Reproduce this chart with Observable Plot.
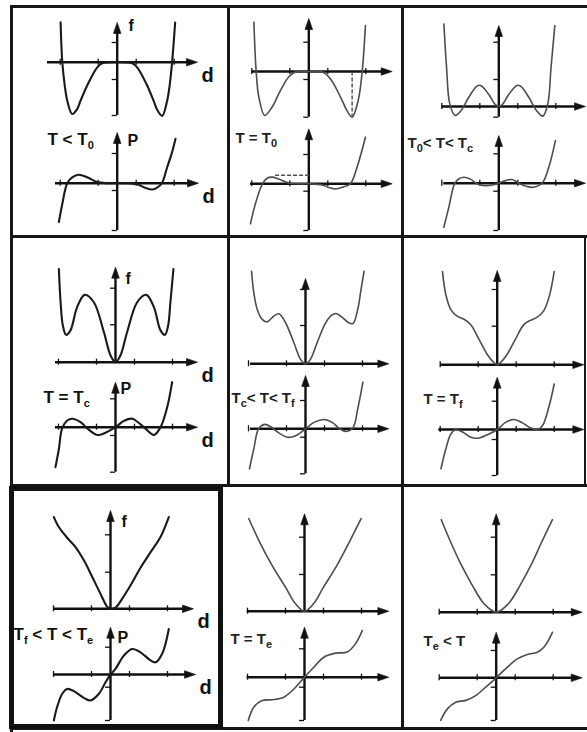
<!DOCTYPE html>
<html>
<head>
<meta charset="utf-8">
<script src="https://cdn.jsdelivr.net/npm/d3@7"></script>
<script src="https://cdn.jsdelivr.net/npm/@observablehq/plot@0.6"></script>
<style>
  body { margin: 0; background: #fff; }
  #fig { position: relative; width: 587px; height: 732px; overflow: hidden; background: #fff; }
  #fig .line { position: absolute; background: #161616; }
</style>
</head>
<body>
<div id="fig"></div>
<script>
// Reduced d-axis tick positions
const dTicks = [-3, -1, 1, 3];

// Temperature regime of each panel, row by row
const conditions = ["T < T_0", "T = T_0", "T_0< T< T_c",
                    "T = T_c", "T_c< T< T_f", "T = T_f",
                    "T_f < T < T_e", "T = T_e", "T_e < T"];

// Free energy f(d), pairs [d, f]
const fBelowT0 = [[-2.98,1.08],[-2.89,0],[-2.77,-0.59],[-2.63,-1.04],[-2.37,-1.4],[-2.1,-1.26],[-1.93,-1.04],[-1.54,-0.59],[-1.05,-0.14],[-0.79,-0.03],[0,0],[0.79,-0.03],[1.05,-0.14],[1.54,-0.59],[1.93,-1.06],[2.12,-1.3],[2.37,-1.45],[2.63,-1.04],[2.77,-0.59],[2.89,0],[3.05,1.07]];
const fAtT0 = [[-2.89,1.33],[-2.77,0],[-2.63,-0.69],[-2.32,-1.19],[-1.93,-0.96],[-1.49,-0.51],[-1.05,-0.14],[-0.7,-0.01],[0,0],[0.7,-0.01],[1.14,-0.2],[1.67,-0.69],[2.0,-1.05],[2.28,-1.23],[2.6,-0.78],[2.81,0],[2.98,1.24]];
const fT0toTc = [[-2.89,2.23],[-2.75,1.06],[-2.58,0.07],[-2.3,-0.24],[-2.0,-0.12],[-1.58,0.25],[-1.15,0.55],[-0.95,0.57],[-0.53,0.33],[-0.18,0.05],[0,0],[0.18,0.05],[0.53,0.33],[0.95,0.57],[1.15,0.55],[1.58,0.25],[2.0,-0.12],[2.32,-0.26],[2.58,0.07],[2.75,1.06],[2.95,2.19]];
const fAtTc = [[-2.98,2.52],[-2.89,1.62],[-2.77,0.99],[-2.6,0.74],[-2.37,0.86],[-2.02,1.49],[-1.62,1.82],[-1.14,1.62],[-0.61,0.81],[-0.26,0.18],[0,0],[0.26,0.18],[0.61,0.81],[1.14,1.62],[1.62,1.82],[2.02,1.49],[2.37,0.86],[2.6,0.74],[2.77,0.99],[2.89,1.62],[3.05,2.52]];
const fTcToTf = [[-2.84,2.5],[-2.72,1.92],[-2.54,1.47],[-2.28,1.2],[-2.02,1.13],[-1.67,1.29],[-1.4,1.35],[-1.05,1.11],[-0.61,0.57],[-0.26,0.12],[0,0],[0.26,0.12],[0.61,0.57],[1.05,1.1],[1.35,1.3],[1.6,1.36],[1.95,1.25],[2.3,1.1],[2.5,1.09],[2.75,1.47],[2.92,2.0],[3.08,2.5]];
const fAtTf = [[-2.88,2.52],[-2.7,1.89],[-2.44,1.49],[-2.09,1.31],[-1.74,1.23],[-1.39,1.08],[-0.95,0.68],[-0.51,0.27],[-0.16,0.05],[0,0],[0.16,0.05],[0.51,0.27],[0.95,0.68],[1.39,1.08],[1.74,1.2],[2.09,1.28],[2.44,1.45],[2.74,1.85],[3.0,2.52]];
const fTfToTe = [[-2.98,2.48],[-2.72,2.21],[-2.28,1.92],[-1.84,1.67],[-1.4,1.31],[-0.96,0.86],[-0.53,0.41],[-0.18,0.06],[0,0],[0.26,0.03],[0.61,0.27],[1.05,0.63],[1.58,1.11],[2.11,1.53],[2.63,1.94],[3.07,2.48]];
const fAtTe = [[-2.93,2.5],[-2.4,1.91],[-1.7,1.23],[-1.0,0.65],[-0.47,0.2],[0,0],[0.47,0.2],[1.0,0.65],[1.7,1.23],[2.4,1.91],[2.98,2.5]];
const fAboveTe = [[-2.89,2.5],[-2.39,1.89],[-1.87,1.31],[-1.25,0.72],[-0.64,0.23],[0,0],[0.64,0.23],[1.25,0.72],[1.87,1.31],[2.39,1.89],[2.96,2.5]];

// Polarisation P(d), pairs [d, P]
const pBelowT0 = [[-3.07,-1.05],[-2.89,-0.56],[-2.63,0],[-2.37,0.16],[-2.02,0.23],[-1.58,0.16],[-1.05,0.03],[-0.5,0],[0,0],[0.5,0],[1.05,-0.03],[1.5,-0.13],[1.85,-0.17],[2.1,-0.12],[2.35,0],[2.63,0.43],[2.89,0.84],[3.07,1.2]];
const pAtT0 = [[-3.07,-1.08],[-2.81,-0.54],[-2.46,-0.02],[-2.2,0.15],[-1.93,0.18],[-1.6,0.13],[-1.05,0.02],[-0.5,0],[0,0],[0.7,-0.03],[1.05,-0.1],[1.4,-0.14],[1.8,-0.09],[2.19,0],[2.54,0.45],[2.98,1.26]];
const pT0toTc = [[-2.89,-1.19],[-2.63,-0.65],[-2.33,-0.02],[-2.1,0.12],[-1.84,0.16],[-1.49,0.11],[-1.14,-0.02],[-0.7,-0.07],[-0.26,-0.04],[0,0],[0.35,0.07],[0.7,0.1],[1.05,0],[1.49,-0.09],[1.84,-0.11],[2.28,0],[2.63,0.43],[2.98,1.15]];
const pAtTc = [[-3.16,-1.08],[-2.98,-0.59],[-2.81,-0.03],[-2.54,0.18],[-2.28,0.23],[-1.84,0.14],[-1.49,-0.03],[-0.96,-0.21],[-0.53,-0.15],[0,0],[0.44,0.17],[0.88,0.23],[1.49,0],[2.02,-0.21],[2.37,0],[2.72,0.54],[2.98,1.22]];
const pTcToTf = [[-2.95,-1.08],[-2.72,-0.54],[-2.47,0],[-2.16,0.12],[-1.81,0.05],[-1.46,-0.09],[-0.93,-0.23],[-0.49,-0.18],[0,0],[0.47,0.18],[1.0,0.25],[1.44,0.16],[1.79,0],[2.14,-0.07],[2.49,0.02],[2.75,0.54],[3.02,1.26]];
const pAtTf = [[-2.96,-1.06],[-2.7,-0.52],[-2.44,-0.12],[-2.18,0],[-1.82,-0.07],[-1.39,-0.21],[-0.95,-0.23],[-0.51,-0.14],[0,0],[0.46,0.2],[0.89,0.27],[1.33,0.18],[1.77,0.04],[2.12,0],[2.39,0.11],[2.74,0.65],[3.0,1.23]];
const pTfToTe = [[-2.98,-1.24],[-2.81,-0.88],[-2.54,-0.52],[-2.28,-0.39],[-1.93,-0.45],[-1.4,-0.63],[-1.05,-0.7],[-0.61,-0.52],[-0.26,-0.21],[0,0],[0.26,0.15],[0.7,0.51],[1.14,0.69],[1.58,0.6],[2.11,0.38],[2.37,0.33],[2.72,0.56],[3.07,1.23]];
const pAtTe = [[-2.96,-1.17],[-2.67,-0.81],[-2.23,-0.63],[-1.7,-0.61],[-1.09,-0.54],[-0.56,-0.32],[0,0],[0.49,0.27],[1.02,0.54],[1.63,0.65],[2.25,0.68],[2.68,0.9],[3.04,1.26]];
const pAboveTe = [[-2.92,-1.15],[-2.57,-0.84],[-2.13,-0.66],[-1.6,-0.61],[-1.08,-0.48],[-0.55,-0.25],[0,0],[0.59,0.29],[1.11,0.51],[1.64,0.63],[2.17,0.69],[2.52,0.83],[2.96,1.23]];

// Dashed guides at T = T0: depth of the second well, and height of the P hump
const wellGuideT0 = [[2.28,-1.23],[2.28,0]];
const humpGuideT0 = [[-1.75,0.23],[0,0.23]];

const fCurves = [fBelowT0, fAtT0, fT0toTc, fAtTc, fTcToTf, fAtTf, fTfToTe, fAtTe, fAboveTe];
const pCurves = [pBelowT0, pAtT0, pT0toTc, pAtTc, pTcToTf, pAtTf, pTfToTe, pAtTe, pAboveTe];

// ---- page geometry (pixels) ----
const W = 587, H = 732;
const SX = 19, SY = 37;          // pixels per reduced unit along d and along f / P
const INK = "#111";
const FONT = "'Liberation Sans', Arial, sans-serif";

const panels = [
  {cx:116.7, f:{axisY:61.7,xStart:47,xEnd:197,yTop:22,yBot:115,ticks:[79,42]},
             p:{axisY:182.7,xStart:55,xEnd:198,yTop:132,yBot:230,ticks:[190,153]},
             label:{x:47,y:138,size:17}, letters:{f:[128,25],P:[127,140]}},
  {cx:308.3, f:{axisY:71,xStart:251.7,xEnd:391.7,yTop:18,yBot:116.7,ticks:[79,41.7]},
             p:{axisY:183.3,xStart:250,xEnd:391.7,yTop:128.3,yBot:230,ticks:[190.7,154]},
             label:{x:235,y:137,size:15}},
  {cx:498.3, f:{axisY:106,xStart:441.7,xEnd:585,yTop:25,yBot:116.7,ticks:[79,41.7]},
             p:{axisY:182.7,xStart:443.3,xEnd:585,yTop:135,yBot:230,ticks:[190.7,153.3]},
             label:{x:407,y:142,size:15}},
  {cx:115,   f:{axisY:361.7,xStart:55,xEnd:197,yTop:266.7,yBot:361.7,ticks:[324.3,287.7]},
             p:{axisY:426.7,xStart:55,xEnd:197,yTop:381.7,yBot:471.7,ticks:[435,398.3]},
             label:{x:43,y:396,size:17}, letters:{f:[125,278],P:[120,388]}},
  {cx:305,   f:{axisY:363.3,xStart:250,xEnd:388.3,yTop:278,yBot:363.3,ticks:[325,289]},
             p:{axisY:428.3,xStart:250,xEnd:388.3,yTop:375,yBot:473.3,ticks:[436.7,400]},
             label:{x:231,y:397,size:15}},
  {cx:496.7, f:{axisY:364.3,xStart:440,xEnd:583.3,yTop:270,yBot:364.3,ticks:[325.7,289]},
             p:{axisY:429,xStart:438.3,xEnd:583.3,yTop:376.7,yBot:475,ticks:[439,400.7]},
             label:{x:423,y:398,size:15}},
  {cx:110,   f:{axisY:608.3,xStart:53,xEnd:193,yTop:510,yBot:608.3,ticks:[571.7,534.3]},
             p:{axisY:674,xStart:53,xEnd:195,yTop:626.7,yBot:720,ticks:[686.7,646.7]},
             label:{x:13,y:633,size:17}, letters:{f:[121,521],P:[117,637]}},
  {cx:304,   f:{axisY:610.7,xStart:246.7,xEnd:388.3,yTop:513.3,yBot:610.7,ticks:[574,536.7]},
             p:{axisY:676.7,xStart:246.7,xEnd:388.3,yTop:626.7,yBot:720,ticks:[686.7,648.3]},
             label:{x:230,y:638,size:15}},
  {cx:495.7, f:{axisY:611.7,xStart:439.3,xEnd:581.7,yTop:513.3,yBot:611.7,ticks:[574.3,536.7]},
             p:{axisY:677.3,xStart:439.3,xEnd:581.7,yTop:631.7,yBot:720,ticks:[686.7,650]},
             label:{x:423,y:640,size:15}}
];

// filled arrowhead pointing up, tip at the origin
const arrowHead = {draw(c) { c.moveTo(0, 0); c.lineTo(3.8, 11); c.lineTo(-3.8, 11); c.closePath(); }};

// text placed at a page position (baseline y)
function pageText(str, x, y, size, fill) {
  return Plot.text([str], {
    text: (d) => d, frameAnchor: "top-left", dx: x, dy: y - 0.34 * size,
    textAnchor: "start", fontSize: size, fontWeight: "bold",
    fontFamily: FONT, fill: fill || INK
  });
}

// one coordinate system (f or P against d) with its curve
function axesPlot(cx, g, curve, ink, lw, extra) {
  const u = (px) => (px - cx) / SX;
  const v = (py) => (g.axisY - py) / SY;
  const yTicks = [...g.ticks, ...(g.yBot > g.axisY + 1 ? [g.yBot] : [])].map(v);
  return Plot.plot({
    width: W, height: H, margin: 0,
    x: {domain: [-1, 1], range: [cx - SX, cx + SX], axis: null},
    y: {domain: [0, 1], range: [g.axisY, g.axisY - SY], axis: null},
    style: {background: "transparent", position: "absolute", left: "0px", top: "0px", overflow: "visible"},
    marks: [
      Plot.ruleY([0], {x1: u(g.xStart), x2: u(g.xEnd - 6), stroke: INK, strokeWidth: 2.4}),
      Plot.ruleX([0], {y1: v(g.yBot), y2: v(g.yTop + 6), stroke: INK, strokeWidth: 2.4}),
      Plot.dot([0], {x: u(g.xEnd), y: 0, symbol: arrowHead, rotate: 90, fill: INK, stroke: INK, strokeWidth: 0.6}),
      Plot.dot([0], {x: 0, y: v(g.yTop), symbol: arrowHead, fill: INK, stroke: INK, strokeWidth: 0.6}),
      Plot.ruleX(dTicks, {x: (d) => d, y1: 0, y2: 0, insetTop: -3, insetBottom: -3, stroke: INK, strokeWidth: 1.3}),
      Plot.ruleY(yTicks, {y: (d) => d, x1: 0, x2: -5 / SX, stroke: INK, strokeWidth: 1.3}),
      Plot.line(curve, {x: (d) => d[0], y: (d) => d[1], curve: "catmull-rom",
        stroke: ink, strokeWidth: lw, strokeLinejoin: "round", strokeLinecap: "round"}),
      ...extra
    ]
  });
}

const fig = document.getElementById("fig");

// cell frame lines
const frameLines = [
  [10, 5, W - 10, 3], [10, 5, 3, H - 5], [10, 235, W - 10, 3], [10, 484, W - 10, 3], [10, 727, W - 10, 3],
  [227, 5, 3, 482], [401, 5, 3, 725], [584, 236, 2, 250]
];
for (const [x, y, w, h] of frameLines) {
  const el = document.createElement("div");
  el.className = "line";
  Object.assign(el.style, {left: x + "px", top: y + "px", width: w + "px", height: h + "px"});
  fig.appendChild(el);
}
const box = document.createElement("div");
Object.assign(box.style, {position: "absolute", left: "9px", top: "486px", width: "204px", height: "233px",
  border: "5px solid #111"});
fig.appendChild(box);

panels.forEach((pn, i) => {
  const col = i % 3;
  const ink = col === 0 ? "#1a1a1a" : "#4d4d4d";
  const lw = col === 0 ? 2.1 : 1.6;
  const fExtra = [], pExtra = [];
  if (i === 1) {
    fExtra.push(Plot.line(wellGuideT0, {x: (d) => d[0], y: (d) => d[1], stroke: ink, strokeWidth: 1.4, strokeDasharray: "3,3"}));
    pExtra.push(Plot.line(humpGuideT0, {x: (d) => d[0], y: (d) => d[1], stroke: ink, strokeWidth: 1.4, strokeDasharray: "3,3"}));
  }
  const lb = pn.label;
  pExtra.push(pageText(conditions[i], lb.x, lb.y, lb.size, col === 0 ? INK : "#222"));
  if (pn.letters) {
    fExtra.push(pageText("f", pn.letters.f[0], pn.letters.f[1], 16));
    fExtra.push(pageText("d", pn.f.xEnd + 4, pn.f.axisY + 12, 20));
    pExtra.push(pageText("P", pn.letters.P[0], pn.letters.P[1], 16));
    pExtra.push(pageText("d", pn.p.xEnd + 4, pn.p.axisY + 12, 20));
  }
  fig.appendChild(axesPlot(pn.cx, pn.f, fCurves[i], ink, lw, fExtra));
  fig.appendChild(axesPlot(pn.cx, pn.p, pCurves[i], ink, lw, pExtra));
});

// turn "_x" in labels into lowered subscripts
const NS = "http://www.w3.org/2000/svg";
fig.querySelectorAll("text").forEach((t) => {
  const s = t.textContent;
  if (!s.includes("_")) return;
  const size = parseFloat(t.getAttribute("font-size")) || 15;
  const shift = Math.round(size * 0.28);
  t.textContent = "";
  let lowered = false;
  s.split(/(_\w)/).filter(Boolean).forEach((part) => {
    const ts = document.createElementNS(NS, "tspan");
    if (part[0] === "_") {
      ts.textContent = part.slice(1);
      ts.setAttribute("font-size", Math.round(size * 0.72));
      ts.setAttribute("dy", shift);
      lowered = true;
    } else {
      ts.textContent = part;
      if (lowered) { ts.setAttribute("dy", -shift); lowered = false; }
    }
    t.appendChild(ts);
  });
});
</script>
</body>
</html>
